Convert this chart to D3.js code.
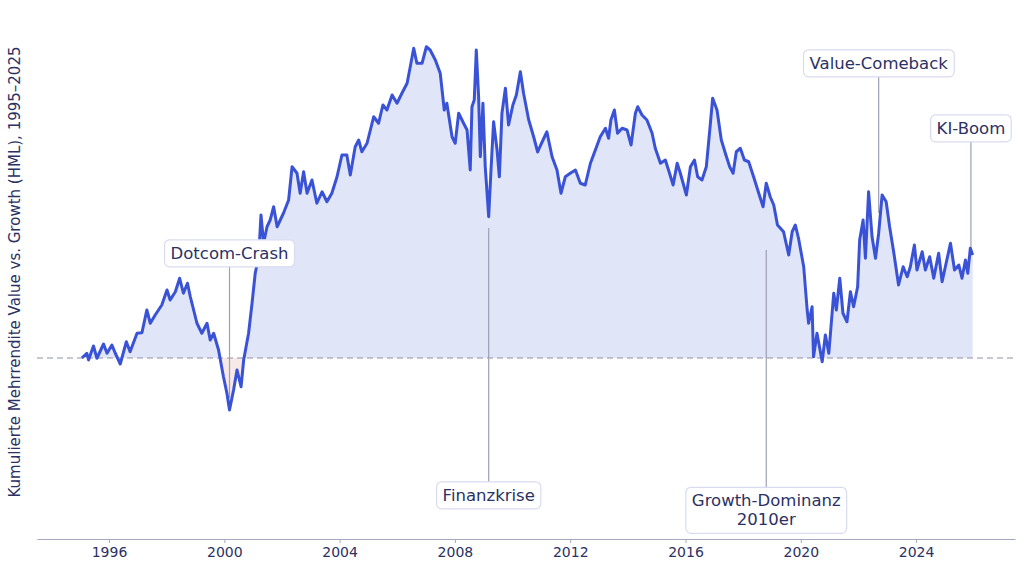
<!DOCTYPE html>
<meta charset="utf-8">
<style>

body {
  margin: 0;
  background: #fff;
}

text {
  font-family: "DejaVu Sans", sans-serif;
  fill: #2b3163;
}

.axis path,
.axis line {
  stroke: #a3a7c2;
}

.axis text {
  font-size: 14px;
  fill: #2b3163;
}

.zero {
  stroke: #8f91a3;
  stroke-dasharray: 6,4;
  stroke-width: 1.2;
}

.line {
  fill: none;
  stroke: #3a53d6;
  stroke-width: 3;
  stroke-linejoin: round;
}

.callout rect {
  fill: #fff;
  stroke: #d9dcf1;
  stroke-width: 1.2;
}

.callout text {
  font-size: 16.5px;
}

</style>
<body>
<script src="https://d3js.org/d3.v7.min.js"></script>
<script>

// cumulative HML excess return (decimal year, %)
var years = [
  1995.06, 1995.23, 1995.29, 1995.46, 1995.58, 1995.81, 1995.93, 1996.10, 1996.21, 1996.39,
  1996.60, 1996.73, 1996.97, 1997.14, 1997.31, 1997.43, 1997.60, 1997.83, 1998.01, 1998.12,
  1998.30, 1998.45, 1998.58, 1998.72, 1998.82, 1999.05, 1999.22, 1999.40, 1999.51, 1999.63,
  1999.80, 1999.97, 2000.09, 2000.18, 2000.32, 2000.44, 2000.58, 2000.67, 2000.84, 2000.96,
  2001.07, 2001.19, 2001.27, 2001.36, 2001.48, 2001.59, 2001.71, 2001.83, 2002.05, 2002.23,
  2002.35, 2002.52, 2002.63, 2002.75, 2002.87, 2003.04, 2003.21, 2003.39, 2003.56, 2003.73,
  2003.91, 2004.08, 2004.25, 2004.37, 2004.54, 2004.66, 2004.77, 2004.95, 2005.18, 2005.35,
  2005.50, 2005.64, 2005.82, 2005.99, 2006.16, 2006.34, 2006.45, 2006.57, 2006.68, 2006.86,
  2007.01, 2007.14, 2007.32, 2007.49, 2007.63, 2007.72, 2007.90, 2008.01, 2008.13, 2008.30,
  2008.42, 2008.53, 2008.59, 2008.67, 2008.74, 2008.82, 2008.88, 2008.97, 2009.05, 2009.17,
  2009.25, 2009.34, 2009.46, 2009.54, 2009.63, 2009.75, 2009.86, 2010.01, 2010.13, 2010.27,
  2010.38, 2010.56, 2010.73, 2010.87, 2010.96, 2011.19, 2011.37, 2011.54, 2011.68, 2011.83,
  2012.00, 2012.18, 2012.35, 2012.52, 2012.70, 2012.87, 2013.04, 2013.22, 2013.33, 2013.41,
  2013.53, 2013.64, 2013.80, 2013.97, 2014.11, 2014.26, 2014.34, 2014.49, 2014.66, 2014.84,
  2014.95, 2015.13, 2015.30, 2015.41, 2015.57, 2015.71, 2015.82, 2016.03, 2016.17, 2016.31,
  2016.42, 2016.57, 2016.72, 2016.84, 2016.94, 2017.09, 2017.24, 2017.38, 2017.53, 2017.65,
  2017.76, 2017.90, 2018.04, 2018.19, 2018.36, 2018.54, 2018.69, 2018.80, 2018.94, 2019.06,
  2019.19, 2019.40, 2019.58, 2019.70, 2019.81, 2019.92, 2020.10, 2020.22, 2020.27, 2020.39,
  2020.44, 2020.56, 2020.74, 2020.85, 2020.97, 2021.14, 2021.23, 2021.35, 2021.46, 2021.60,
  2021.72, 2021.83, 2021.97, 2022.04, 2022.16, 2022.24, 2022.35, 2022.47, 2022.59, 2022.70,
  2022.82, 2022.96, 2023.08, 2023.22, 2023.39, 2023.55, 2023.69, 2023.80, 2023.94, 2024.03,
  2024.21, 2024.32, 2024.47, 2024.61, 2024.78, 2024.90, 2025.05, 2025.19, 2025.33, 2025.48,
  2025.59, 2025.71, 2025.79, 2025.88, 2025.96
];

var values = [
   0.0,   1.9,  -0.8,   4.8,  -0.1,   5.6,   1.9,   5.2,   2.1,  -2.4,
   6.5,   2.5,   9.9,  10.1,  19.2,  13.9,  17.2,  21.2,  27.2,  23.2,
  26.5,  31.9,  25.9,  29.9,  24.5,  13.9,   9.9,  13.9,   7.2,   9.9,
   3.2,  -7.5, -14.1, -20.8, -12.8,  -4.8, -11.5,  -0.8,   9.9,  21.9,
  33.9,  40.5,  57.2,  45.9,  52.5,  55.2,  60.5,  52.5,  57.9,  63.2,
  76.5,  73.9,  65.9,  74.5,  65.9,  71.2,  61.9,  66.5,  62.5,  65.9,
  72.5,  81.2,  81.2,  73.2,  84.5,  87.2,  82.5,  85.9,  96.5,  93.9,
 101.2,  99.2, 105.2, 101.9, 105.9, 109.9, 116.5, 123.9, 117.9, 117.9,
 124.5, 123.2, 119.2, 113.9,  99.2, 101.9,  88.5,  85.9,  97.9,  93.9,
  91.2,  75.2, 100.5, 103.2, 123.2, 104.5,  80.5, 101.9,  76.5,  56.5,
  75.2,  94.5,  83.2,  72.5,  97.9, 107.9,  93.2, 101.2, 105.2, 114.5,
 105.9,  95.2,  88.5,  82.4,  84.8,  90.5,  80.5,  75.2,  65.9,  72.5,
  73.9,  75.2,  69.9,  69.2,  77.9,  83.2,  88.5,  91.9,  87.9,  95.2,
  99.2,  89.9,  91.9,  91.2,  85.2,  97.9, 100.5,  97.2,  95.2,  89.9,
  83.9,  77.9,  79.2,  75.2,  69.2,  77.9,  73.9,  65.2,  76.5,  79.2,
  72.5,  71.2,  76.5,  91.2, 103.9,  99.2,  87.2,  81.9,  76.5,  73.9,
  82.5,  83.9,  79.2,  78.5,  72.5,  65.9,  60.5,  69.9,  64.4,  61.2,
  53.2,  50.5,  41.2,  50.5,  53.2,  47.9,  36.5,  19.2,  13.9,  20.5,
   0.5,   9.9,  -1.5,   9.2,   1.9,  25.9,  19.2,  31.9,  17.9,  14.5,
  26.5,  20.5,  28.5,  47.2,  55.2,  39.9,  66.5,  48.5,  39.9,  49.9,
  65.2,  62.5,  52.5,  42.5,  29.2,  36.5,  32.5,  36.5,  45.2,  35.2,
  42.5,  35.2,  40.5,  31.9,  41.9,  30.5,  38.5,  45.9,  35.2,  37.2,
  31.9,  39.2,  33.9,  43.9,  41.2
];

// annotations: label lines, anchor (decimal year, %), label centre (decimal year, %)
var noteLabels = [["Dotcom-Crash"], ["Finanzkrise"], ["Growth-Dominanz", "2010er"], ["Value-Comeback"], ["KI-Boom"]];
var noteAnchorYear = [2000.18, 2009.17, 2018.80, 2022.70, 2025.90];
var noteAnchorValue = [-16.0, 52.0, 43.2, 58.0, 44.0];
var noteTextYear = [2000.18, 2009.17, 2018.80, 2022.70, 2025.90];
var noteTextValue = [42.0, -54.8, -60.8, 118.0, 92.0];

var yearTicks = [1996, 2000, 2004, 2008, 2012, 2016, 2020, 2024];

var width = 1024,
    height = 570,
    margin = {top: 30, right: 9, bottom: 31, left: 37};

function toDate(y) {
  var yr = Math.floor(y),
      start = new Date(yr, 0, 1),
      end = new Date(yr + 1, 0, 1);
  return new Date(start.getTime() + (y - yr) * (end - start));
}

var data = years.map(function(y, i) { return {date: toDate(y), value: values[i]}; });

var x = d3.scaleTime()
    .domain([toDate(1993.5), toDate(2027.43)])
    .range([margin.left, width - margin.right]);

var y = d3.scaleLinear()
    .domain([-72.4, 131.2])
    .range([height - margin.bottom, margin.top]);

var svg = d3.select("body").append("svg")
    .attr("width", width)
    .attr("height", height);

var defs = svg.append("defs");

defs.append("clipPath").attr("id", "above")
  .append("rect")
    .attr("x", 0).attr("y", 0)
    .attr("width", width).attr("height", y(0));

defs.append("clipPath").attr("id", "below")
  .append("rect")
    .attr("x", 0).attr("y", y(0))
    .attr("width", width).attr("height", height - y(0));

var area = d3.area()
    .x(function(d) { return x(d.date); })
    .y0(y(0))
    .y1(function(d) { return y(d.value); });

var line = d3.line()
    .x(function(d) { return x(d.date); })
    .y(function(d) { return y(d.value); });

svg.append("path")
    .datum(data)
    .attr("clip-path", "url(#above)")
    .attr("fill", "#e1e5f8")
    .attr("d", area);

svg.append("path")
    .datum(data)
    .attr("clip-path", "url(#below)")
    .attr("fill", "#f7e9e7")
    .attr("d", area);

svg.append("line")
    .attr("class", "zero")
    .attr("x1", margin.left)
    .attr("x2", width - margin.right)
    .attr("y1", y(0))
    .attr("y2", y(0));

// connector lines sit under the data line
var notes = noteLabels.map(function(lines, i) {
  return {
    lines: lines,
    ax: x(toDate(noteAnchorYear[i])), ay: y(noteAnchorValue[i]),
    tx: x(toDate(noteTextYear[i])), ty: y(noteTextValue[i])
  };
});

svg.append("g").selectAll("line")
  .data(notes)
  .enter().append("line")
    .attr("stroke", "#9c9fb6")
    .attr("stroke-width", 1.2)
    .attr("x1", function(d) { return d.ax; })
    .attr("y1", function(d) { return d.ay; })
    .attr("x2", function(d) { return d.tx; })
    .attr("y2", function(d) { return d.ty; });

svg.append("path")
    .datum(data)
    .attr("class", "line")
    .attr("d", line);

var xAxis = svg.append("g")
    .attr("class", "axis")
    .attr("transform", "translate(0," + (height - margin.bottom) + ")")
    .call(d3.axisBottom(x)
      .tickValues(yearTicks.map(function(t) { return new Date(t, 0, 1); }))
      .tickFormat(d3.timeFormat("%Y"))
      .tickSize(4)
      .tickPadding(4)
      .tickSizeOuter(0));

xAxis.selectAll("text").style("font-family", "'DejaVu Sans', sans-serif");

// label boxes
var note = svg.append("g").selectAll(".callout")
  .data(notes)
  .enter().append("g")
    .attr("class", "callout")
    .attr("transform", function(d) { return "translate(" + d.tx + "," + d.ty + ")"; });

note.each(function(d) {
  var g = d3.select(this),
      lh = 19,
      n = d.lines.length;
  var t = g.append("text")
      .attr("text-anchor", "middle");
  d.lines.forEach(function(s, j) {
    t.append("tspan")
        .attr("x", 0)
        .attr("y", (j - (n - 1) / 2) * lh)
        .attr("dy", "0.35em")
        .text(s);
  });
  var bb = t.node().getBBox();
  g.insert("rect", "text")
      .attr("x", bb.x - 6)
      .attr("y", bb.y - 4)
      .attr("width", bb.width + 12)
      .attr("height", bb.height + 8)
      .attr("rx", 5);
});

svg.append("text")
    .attr("transform", "translate(20,272)rotate(-90)")
    .attr("text-anchor", "middle")
    .style("font-size", "15px")
    .text("Kumulierte Mehrrendite Value vs. Growth (HML), 1995–2025");

</script>
